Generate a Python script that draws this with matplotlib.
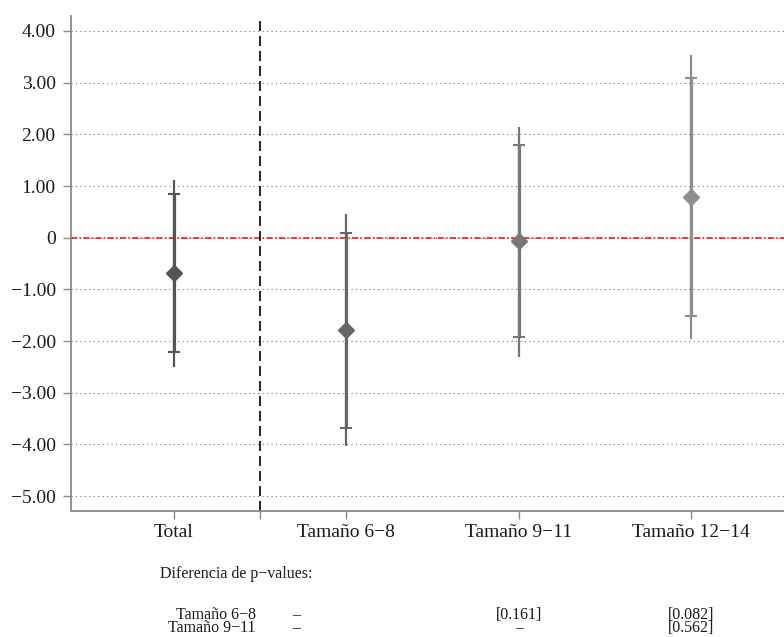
import matplotlib
matplotlib.use('Agg')
import matplotlib.pyplot as plt

# Data
categories = ['Total', 'Tamaño 6−8', 'Tamaño 9−11', 'Tamaño 12−14']
estimate = [-0.69, -1.79, -0.07, 0.78]
ci_inner_lo = [-2.21, -3.68, -1.93, -1.52]
ci_inner_hi = [0.84, 0.10, 1.80, 3.09]
ci_outer_lo = [-2.50, -4.04, -2.30, -1.96]
ci_outer_hi = [1.12, 0.46, 2.15, 3.54]
colors = ['#555555', '#666666', '#777777', '#8e8e8e']

yticks = [4, 3, 2, 1, 0, -1, -2, -3, -4, -5]
ytick_labels = ['4.00', '3.00', '2.00', '1.00', '0', '−1.00', '−2.00', '−3.00', '−4.00', '−5.00']

pval_rows = ['Tamaño 6−8', 'Tamaño 9−11']
pval_cells = [['–', '[0.161]', '[0.082]'],
              ['–', '–', '[0.562]']]

plt.rcParams['font.family'] = ['Liberation Serif', 'DejaVu Serif']
plt.rcParams['font.size'] = 14

W, H = 784, 637
fig = plt.figure(figsize=(W / 100, H / 100), dpi=100)
ax = fig.add_axes([71 / W, (H - 510.5) / H, 1 - 71 / W, (510.5 - 16) / H])

xpos = list(range(1, len(categories) + 1))

# grid
for yv in yticks:
    ax.axhline(yv, color='#707070', lw=0.8, linestyle=(0, (1, 3)), zorder=1)
ax.axhline(0, color='red', lw=1.1, linestyle=(0, (4, 1.5, 1, 1.5)), zorder=2)
ax.axvline(1.5, color='black', lw=1.2, linestyle=(0, (6, 3)), zorder=2)

for x, est, lo, hi, olo, ohi, c in zip(xpos, estimate, ci_inner_lo, ci_inner_hi,
                                      ci_outer_lo, ci_outer_hi, colors):
    ax.plot([x, x], [olo, ohi], color=c, lw=1.6, solid_capstyle='butt', zorder=3)
    ax.errorbar([x], [est], yerr=[[est - lo], [hi - est]], fmt='none', ecolor=c,
                elinewidth=2.3, capsize=4.5, capthick=1.5, zorder=4)
    ax.plot([x], [est], marker='D', markersize=8, color=c, zorder=5)

ax.set_xlim(0.402, 4.54)
ax.set_ylim(-5.28, 4.29)

ax.set_yticks(yticks)
ax.set_yticklabels(ytick_labels)
ax.set_xticks([1, 1.5, 2, 3, 4])
ax.set_xticklabels([categories[0], '', categories[1], categories[2], categories[3]])

for s in ['top', 'right']:
    ax.spines[s].set_visible(False)
for s in ['left', 'bottom']:
    ax.spines[s].set_color('#8a8a8a')
    ax.spines[s].set_linewidth(1.3)
ax.tick_params(axis='both', colors='#8a8a8a', length=6, width=1.0, labelcolor='#1a1a1a')
ax.tick_params(axis='y', pad=5)
ax.tick_params(axis='x', pad=4)

# p-value table below the axis
fs = 11.5
fig.text(160 / W, 1 - 578 / H, 'Diferencia de p−values:', ha='left', va='baseline',
         color='#1a1a1a', fontsize=fs)
row_y = [619, 632]
col_x = [296, 519, 691]
for r, (label, cells) in enumerate(zip(pval_rows, pval_cells)):
    fig.text(256 / W, 1 - row_y[r] / H, label, ha='right', va='baseline',
             color='#1a1a1a', fontsize=fs)
    for cx, cell in zip(col_x, cells):
        fig.text(cx / W, 1 - row_y[r] / H, cell, ha='center', va='baseline',
                 color='#1a1a1a', fontsize=fs)

fig.savefig('out.png', dpi=100)
